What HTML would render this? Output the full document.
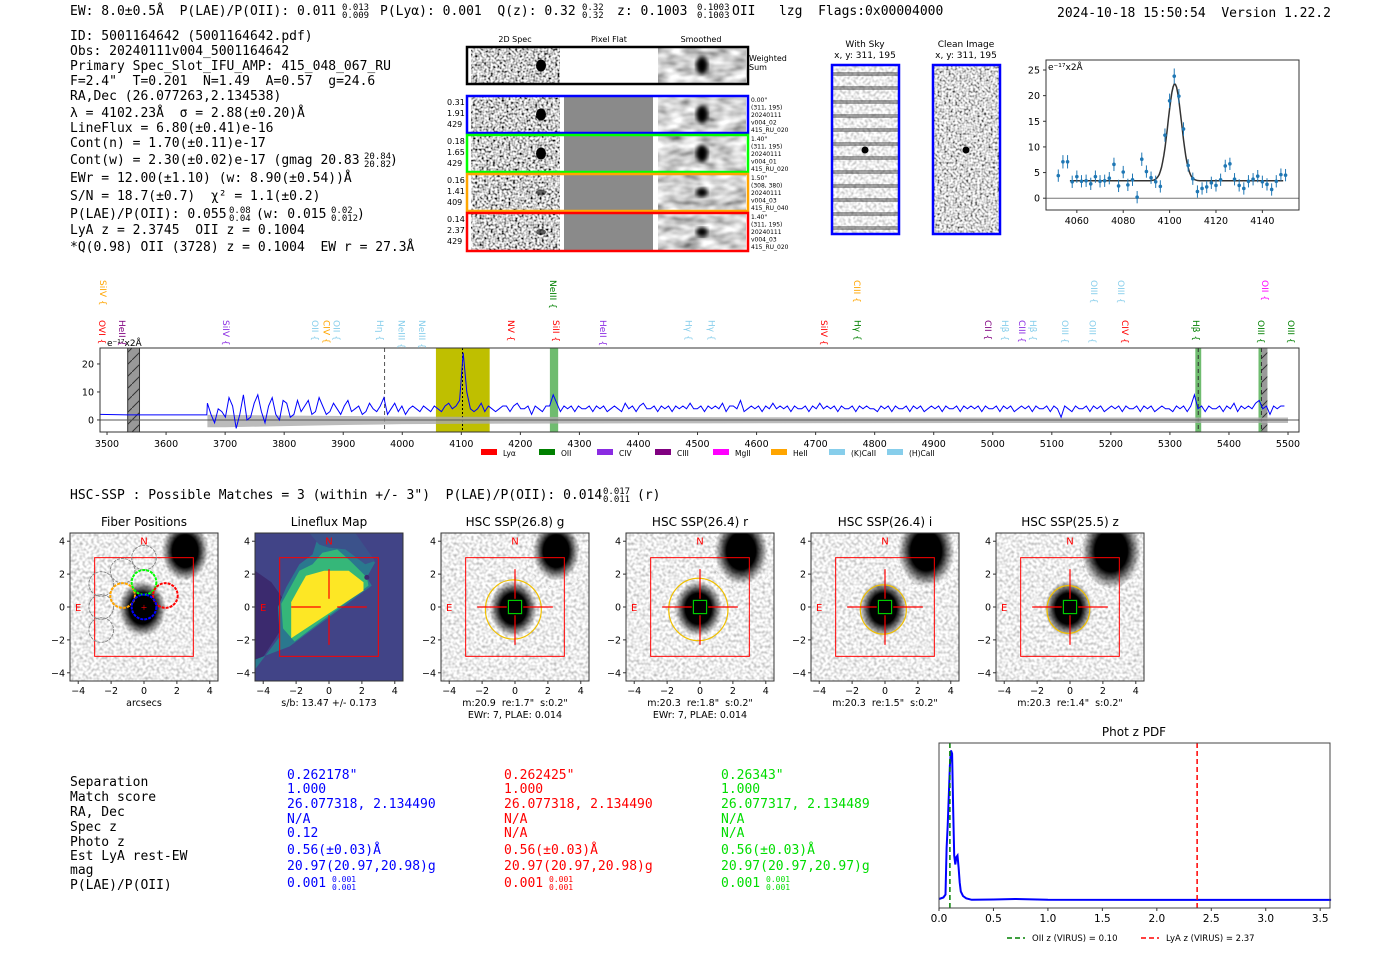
<!DOCTYPE html>
<html><head><meta charset="utf-8">
<style>
html,body{margin:0;padding:0;background:#fff;width:1400px;height:953px;overflow:hidden}
svg{position:absolute;left:0;top:0}
text{white-space:pre}
.m{font-family:"DejaVu Sans Mono","Liberation Mono",monospace;font-size:13px}
.s{font-family:"DejaVu Sans","Liberation Sans",sans-serif}
</style></head>
<body>
<svg id="root" width="1400" height="953" viewBox="0 0 1400 953" xmlns="http://www.w3.org/2000/svg" xml:space="preserve">
<defs>
<filter id="noise" x="0" y="0" width="100%" height="100%">
<feTurbulence type="fractalNoise" baseFrequency="0.45" numOctaves="1" seed="3"/>
<feColorMatrix values="1 0 0 0 0 1 0 0 0 0 1 0 0 0 0 0 0 0 0 1"/>
<feComponentTransfer><feFuncR type="linear" slope="2.6" intercept="-0.7"/><feFuncG type="linear" slope="2.6" intercept="-0.7"/><feFuncB type="linear" slope="2.6" intercept="-0.7"/><feFuncA type="linear" slope="0" intercept="1"/></feComponentTransfer>
</filter>
<filter id="lnoise" x="0" y="0" width="100%" height="100%">
<feTurbulence type="fractalNoise" baseFrequency="0.35" numOctaves="1" seed="7"/>
<feColorMatrix values="1 0 0 0 0 1 0 0 0 0 1 0 0 0 0 0 0 0 0 1"/>
<feComponentTransfer><feFuncR type="linear" slope="1.2" intercept="0.25"/><feFuncG type="linear" slope="1.2" intercept="0.25"/><feFuncB type="linear" slope="1.2" intercept="0.25"/><feFuncA type="linear" slope="0" intercept="1"/></feComponentTransfer>
</filter>
<filter id="smooth" x="0" y="0" width="100%" height="100%">
<feTurbulence type="fractalNoise" baseFrequency="0.06 0.12" numOctaves="2" seed="5"/>
<feColorMatrix values="1 0 0 0 0 1 0 0 0 0 1 0 0 0 0 0 0 0 0 1"/>
<feComponentTransfer><feFuncR type="linear" slope="1.3" intercept="0"/><feFuncG type="linear" slope="1.3" intercept="0"/><feFuncB type="linear" slope="1.3" intercept="0"/><feFuncA type="linear" slope="0" intercept="1"/></feComponentTransfer>
</filter>
<filter id="blur2"><feGaussianBlur stdDeviation="2"/></filter>
<radialGradient id="blob"><stop offset="0" stop-color="#000"/><stop offset="0.55" stop-color="#000"/><stop offset="1" stop-color="#000" stop-opacity="0"/></radialGradient>
<pattern id="hatch" width="12" height="12" patternUnits="userSpaceOnUse"><rect width="12" height="12" fill="#999"/><path d="M0 12 L12 0" stroke="#333" stroke-width="1"/></pattern>
</defs>

<g class="m">
<text x="70" y="15">EW: 8.0±0.5Å  P(LAE)/P(OII): 0.011</text>
<text x="342" y="10" font-size="9">0.013</text>
<text x="342" y="18" font-size="9">0.009</text>
<text x="380" y="15">P(Lyα): 0.001  Q(z): 0.32</text>
<text x="582" y="10" font-size="9">0.32</text>
<text x="582" y="18" font-size="9">0.32</text>
<text x="617" y="15">z: 0.1003</text>
<text x="697" y="10" font-size="9">0.1003</text>
<text x="697" y="18" font-size="9">0.1003</text>
<text x="732" y="15">OII   lzg  Flags:0x00004000</text>
<text x="1057" y="17">2024-10-18 15:50:54  Version 1.22.2</text>
</g>

<g class="m">
<text x="70" y="40">ID: 5001164642 (5001164642.pdf)</text>
<text x="70" y="55">Obs: 20240111v004_5001164642</text>
<text x="70" y="70">Primary Spec_Slot_IFU_AMP: 415_048_067_RU</text>
<text x="70" y="85">F=2.4"  T=0.201  N=1.49  A=0.57  g=24.6</text>
<text x="70" y="100">RA,Dec (26.077263,2.134538)</text>
<text x="70" y="117">λ = 4102.23Å  σ = 2.88(±0.20)Å</text>
<text x="70" y="132">LineFlux = 6.80(±0.41)e-16</text>
<text x="70" y="147">Cont(n) = 1.70(±0.11)e-17</text>
<text x="70" y="164">Cont(w) = 2.30(±0.02)e-17 (gmag 20.83</text>
<text x="364" y="159" font-size="9">20.84</text><text x="364" y="167" font-size="9">20.82</text><text x="390" y="164">)</text>
<text x="70" y="182">EWr = 12.00(±1.10) (w: 8.90(±0.54))Å</text>
<text x="70" y="200">S/N = 18.7(±0.7)  χ² = 1.1(±0.2)</text>
<text x="70" y="218">P(LAE)/P(OII): 0.055</text>
<text x="229" y="213" font-size="9">0.08</text><text x="229" y="221" font-size="9">0.04</text>
<text x="256" y="218">(w: 0.015</text>
<text x="331" y="213" font-size="9">0.02</text><text x="331" y="221" font-size="9">0.012</text><text x="357" y="218">)</text>
<text x="70" y="234">LyA z = 2.3745  OII z = 0.1004</text>
<text x="70" y="251">*Q(0.98) OII (3728) z = 0.1004  EW r = 27.3Å</text>
</g>

<g id="spec2d"></g>

<g>
<text class="s" x="865" y="47" font-size="9" text-anchor="middle">With Sky</text>
<text class="s" x="865" y="58" font-size="9" text-anchor="middle">x, y: 311, 195</text>
<rect x="832" y="65" width="67" height="169" fill="#888" filter="url(#lnoise)"/>
<g opacity="0.45"><rect x="832" y="72" width="67" height="4" fill="#333"/><rect x="832" y="86" width="67" height="4" fill="#333"/><rect x="832" y="100" width="67" height="4" fill="#333"/><rect x="832" y="114" width="67" height="4" fill="#333"/><rect x="832" y="128" width="67" height="4" fill="#333"/><rect x="832" y="142" width="67" height="4" fill="#333"/><rect x="832" y="156" width="67" height="4" fill="#333"/><rect x="832" y="170" width="67" height="4" fill="#333"/><rect x="832" y="184" width="67" height="4" fill="#333"/><rect x="832" y="198" width="67" height="4" fill="#333"/><rect x="832" y="212" width="67" height="4" fill="#333"/><rect x="832" y="226" width="67" height="4" fill="#333"/></g>
<circle cx="865" cy="150" r="3.5" fill="#000"/>
<rect x="832" y="65" width="67" height="169" fill="none" stroke="#00f" stroke-width="2.5"/>
<text class="s" x="966" y="47" font-size="9" text-anchor="middle">Clean Image</text>
<text class="s" x="966" y="58" font-size="9" text-anchor="middle">x, y: 311, 195</text>
<rect x="933" y="65" width="67" height="169" fill="#888" filter="url(#noise)" opacity="0.75"/>
<circle cx="966" cy="150" r="3.5" fill="#000"/>
<rect x="933" y="65" width="67" height="169" fill="none" stroke="#00f" stroke-width="2.5"/>
</g>

<g id="zoomplot"></g>
<g id="mainspec"></g>

<g class="m">
<text x="70" y="499">HSC-SSP : Possible Matches = 3 (within +/- 3")  P(LAE)/P(OII): 0.014</text>
<text x="603" y="494" font-size="9">0.017</text>
<text x="603" y="502" font-size="9">0.011</text>
<text x="637" y="499">(r)</text>
</g>

<g id="cutouts"></g>

<g class="m">
<g>
<text x="70" y="786">Separation</text><text x="70" y="801">Match score</text><text x="70" y="816">RA, Dec</text><text x="70" y="831">Spec z</text><text x="70" y="846">Photo z</text><text x="70" y="860">Est LyA rest-EW</text><text x="70" y="874">mag</text><text x="70" y="889">P(LAE)/P(OII)</text>
</g>
<g fill="#0000ff">
<text x="287" y="779">0.262178"</text><text x="287" y="793">1.000</text><text x="287" y="808">26.077318, 2.134490</text><text x="287" y="823">N/A</text><text x="287" y="837">0.12</text><text x="287" y="854">0.56(±0.03)Å</text><text x="287" y="870">20.97(20.97,20.98)g</text><text x="287" y="887">0.001</text><text x="332" y="882" font-size="8">0.001</text><text x="332" y="890" font-size="8">0.001</text>
</g>
<g fill="#ff0000">
<text x="504" y="779">0.262425"</text><text x="504" y="793">1.000</text><text x="504" y="808">26.077318, 2.134490</text><text x="504" y="823">N/A</text><text x="504" y="837">N/A</text><text x="504" y="854">0.56(±0.03)Å</text><text x="504" y="870">20.97(20.97,20.98)g</text><text x="504" y="887">0.001</text><text x="549" y="882" font-size="8">0.001</text><text x="549" y="890" font-size="8">0.001</text>
</g>
<g fill="#00dd00">
<text x="721" y="779">0.26343"</text><text x="721" y="793">1.000</text><text x="721" y="808">26.077317, 2.134489</text><text x="721" y="823">N/A</text><text x="721" y="837">N/A</text><text x="721" y="854">0.56(±0.03)Å</text><text x="721" y="870">20.97(20.97,20.97)g</text><text x="721" y="887">0.001</text><text x="766" y="882" font-size="8">0.001</text><text x="766" y="890" font-size="8">0.001</text>
</g>
</g>

<g id="photz"></g>
</svg>

<script>
const NS="http://www.w3.org/2000/svg";
function mk(parent,tag,attrs,text){const e=document.createElementNS(NS,tag);for(const k in attrs)e.setAttribute(k,attrs[k]);if(text!==undefined)e.textContent=text;parent.appendChild(e);return e;}

/* ---------- line fit data ---------- */
const fitWave=[4052,4054,4056,4058,4060,4062,4064,4066,4068,4070,4072,4074,4076,4078,4080,4082,4084,4086,4088,4090,4092,4094,4096,4098,4100,4102,4104,4106,4108,4110,4112,4114,4116,4118,4120,4122,4124,4126,4128,4130,4132,4134,4136,4138,4140,4142,4144,4146,4148,4150];
const fitFlux=[4.4,7.1,7.1,3.2,4.2,3.3,3.4,2.8,4.2,3.3,3.4,3.9,6.6,2.4,5.1,2.6,3.6,0.2,7.6,5.2,4.0,3.2,2.3,12.3,19.0,23.8,19.9,13.5,6.4,3.8,1.3,1.9,2.2,3.0,2.5,3.6,6.3,6.7,3.7,2.5,1.9,3.3,3.7,4.3,3.2,2.7,1.7,3.3,4.6,4.5];
const fitErr=[1.2,1.3,1.3,1.2,1.2,1.2,1.2,1.2,1.2,1.2,1.2,1.2,1.3,1.2,1.2,1.2,1.2,1.2,1.3,1.2,1.2,1.2,1.2,1.3,1.4,1.5,1.4,1.3,1.2,1.2,1.2,1.2,1.2,1.2,1.2,1.2,1.2,1.2,1.2,1.2,1.2,1.2,1.2,1.2,1.2,1.2,1.2,1.2,1.2,1.2];
const fitParams=[4102.23,2.88,18.9,3.4];
const fitXTicks=[4060,4080,4100,4120,4140];
const fitYTicks=[0,5,10,15,20,25];

/* ---------- full spectrum ---------- */
const specStart=3670, specStep=6.1;
const specFlux=[
6,2,-1,4,3,1,8,5,-3,2,
9,0,1,6,9,3,-1,5,8,2,
0,7,6,1,2,7,3,5,7,2,
3,8,5,2,3,6,4,2,5,7,
3,4,5,2,3,6,4,3,5,8,
2,4,6,3,5,2,4,5,4,3,
5,4,3,5,4,3,5,6,4,5,
7,24,10,4,3,4,6,3,5,4,
3,4,5,5,3,5,6,4,4,5,
2,5,4,3,5,5,9,6,3,5,
4,5,3,5,4,4,5,3,5,4,
5,3,4,5,4,3,6,4,5,3,
5,6,4,4,5,3,5,4,5,3,
5,4,5,4,6,4,4,5,3,5,
4,5,4,6,3,5,5,4,7,3,
4,5,4,5,3,5,4,6,4,5,
4,5,3,5,4,4,5,3,5,4,
6,4,5,4,5,3,5,4,4,5,
3,5,4,5,4,4,3,5,4,5,
3,5,4,4,5,3,5,4,5,3,
4,5,4,5,3,5,4,4,5,3,
5,4,5,4,5,3,5,4,4,5,
3,5,4,5,3,4,5,4,5,3,
5,4,4,5,3,5,4,1,5,4,
3,5,4,4,5,3,5,4,5,3,
4,5,4,5,3,5,4,4,5,3,
5,4,5,3,4,5,4,4,3,5,
4,5,3,5,9,4,5,3,5,4,
4,5,3,5,4,6,3,5,4,5,
4,6,7,4,5,2,5,4,5,5];
const errWave=[3670,3700,3800,3900,4000,4200,4500,5000,5500];
const errHi=[1.8,1.8,1.6,1.4,1.2,1.1,1.0,0.9,0.9];
const errLo=[-2.6,-2.6,-2.2,-1.8,-1.5,-1.3,-1.2,-1.1,-1.1];
const specXTicks=[3500,3600,3700,3800,3900,4000,4100,4200,4300,4400,4500,4600,4700,4800,4900,5000,5100,5200,5300,5400,5500];
const specYTicks=[0,10,20];
const lineNames=["OVI","HeII","SiIV","OII","CIV","OII","Hη","NeIII","NeIII","NV","SiII","HeII","Hγ","Hγ","SiIV","Hγ","CII","Hβ","CIII","Hβ","OIII","OIII","CIV","Hβ","OIII","OIII","SiIV","NeIII","CIII","OIII","OIII","OII"];
const lineWave=[3493,3527,3703,3854,3873,3890,3964,4000,4035,4186,4262,4342,4486,4525,4716,4773,4994,5022,5051,5070,5124,5171,5226,5346,5456,5507,3495,4257,4772,5173,5219,5463];
const lineColor=["red","purple","#8a2be2","skyblue","orange","skyblue","skyblue","skyblue","skyblue","red","red","#8a2be2","skyblue","skyblue","red","green","purple","skyblue","#8a2be2","skyblue","skyblue","skyblue","red","green","green","green","orange","green","orange","skyblue","skyblue","magenta"];
const lineRow=[0,0,0,0,0,0,0,0,0,0,0,0,0,0,0,0,0,0,0,0,0,0,0,0,0,0,1,1,1,1,1,1];
const legendNames=["Lyα","OII","CIV","CIII","MgII","HeII","(K)CaII","(H)CaII"];
const legendColors=["red","green","#8a2be2","purple","magenta","orange","skyblue","skyblue"];

/* ---------- phot z ---------- */
const pzZ=[0,0.04,0.06,0.07,0.08,0.09,0.10,0.11,0.12,0.13,0.14,0.15,0.16,0.17,0.18,0.19,0.2,0.22,0.25,0.3,0.5,0.7,1.0,2.0,3.0,3.6];
const pzP=[0.01,0.02,0.04,0.35,0.5,0.7,0.9,1.0,0.98,0.6,0.3,0.24,0.29,0.3,0.22,0.12,0.06,0.03,0.015,0.005,0.007,0.01,0.005,0.004,0.004,0.004];
const pzXTicks=[0,0.5,1.0,1.5,2.0,2.5,3.0,3.5];
const pzOII=0.10, pzLyA=2.37;

/* ---------- 2D spectra ---------- */
(function(){
 const g=document.getElementById('spec2d');
 const heads=["2D Spec","Pixel Flat","Smoothed"],hx=[515,609,701];
 heads.forEach((h,i)=>{const t=mk(g,'text',{x:hx[i],y:42,'font-size':8,'text-anchor':'middle','class':'s'},h);});
 const rows=[{y:47,h:37,c:"#000",flat:false,l:[],r:["Weighted","Sum"]},{y:96,h:37,c:"#00f",flat:true,l:["0.31","1.91","429"],r:["0.00\"","(311, 195)","20240111","v004_02","415_RU_020"]},{y:135,h:37,c:"#0f0",flat:true,l:["0.18","1.65","429"],r:["1.40\"","(311, 195)","20240111","v004_01","415_RU_020"]},{y:174,h:37,c:"orange",flat:true,l:["0.16","1.41","409"],r:["1.50\"","(308, 380)","20240111","v004_03","415_RU_040"]},{y:213,h:38,c:"red",flat:true,l:["0.14","2.37","429"],r:["1.40\"","(311, 195)","20240111","v004_03","415_RU_020"]}];
 rows.forEach((r,i)=>{
  const rg=mk(g,'g',{});
  mk(rg,'rect',{x:471,y:r.y+1,width:89,height:r.h-2,fill:'#888',filter:'url(#noise)'});
  mk(rg,'ellipse',{cx:541,cy:r.y+r.h/2,rx:5,ry:i>=3?3:6,fill:'#000',opacity:i>=3?0.6:1});
  if(r.flat)mk(rg,'rect',{x:564,y:r.y+1,width:89,height:r.h-2,fill:'#8a8a8a'});
  mk(rg,'rect',{x:658,y:r.y+1,width:88,height:r.h-2,fill:'#888',filter:'url(#smooth)'});
  mk(rg,'ellipse',{cx:702,cy:r.y+r.h/2,rx:6,ry:i>=3?5:9,fill:'#000',filter:'url(#blur2)'});
  mk(rg,'rect',{x:467,y:r.y,width:281,height:r.h,fill:'none',stroke:r.c,'stroke-width':2.5});
  r.l.forEach((t,j)=>mk(rg,'text',{x:447,y:r.y+9+j*11,'font-size':8,'class':'s'},t));
  if(i==0)r.r.forEach((t,j)=>mk(rg,'text',{x:749,y:r.y+14+j*9,'font-size':8,'class':'s'},t));
  else r.r.forEach((t,j)=>mk(rg,'text',{x:751,y:r.y+6+j*7.5,'font-size':6,'class':'s'},t));
 });
})();

/* ---------- line fit plot ---------- */
(function(){
 const g=document.getElementById('zoomplot');
 const L=1046,R=1299,T=60,B=210,x0=4046.7,x1=4155.8,y0=-2.3,y1=26.95;
 const X=w=>L+(w-x0)/(x1-x0)*(R-L), Y=v=>B-(v-y0)/(y1-y0)*(B-T);
 mk(g,'line',{x1:L,x2:R,y1:Y(0),y2:Y(0),stroke:'#777','stroke-width':1});
 let d='';for(let w=4057;w<=4149;w+=0.5){const v=fitParams[3]+fitParams[2]*Math.exp(-0.5*Math.pow((w-fitParams[0])/fitParams[1],2));d+=(d?'L':'M')+X(w).toFixed(1)+' '+Y(v).toFixed(1);}
 const fl=mk(g,'path',{d:d,fill:'none',stroke:'#333','stroke-width':1.5});
 
 fitWave.forEach((w,i)=>{
  const pt=mk(g,'g',{});
  
  
  mk(pt,'line',{x1:X(w),x2:X(w),y1:Y(fitFlux[i]-fitErr[i]),y2:Y(fitFlux[i]+fitErr[i]),stroke:'#1f77b4','stroke-width':1});
  mk(pt,'circle',{cx:X(w),cy:Y(fitFlux[i]),r:1.8,fill:'#1f77b4'});
 });
 mk(g,'rect',{x:L,y:T,width:R-L,height:B-T,fill:'none',stroke:'#333','stroke-width':1});
 fitXTicks.forEach(t=>{mk(g,'line',{x1:X(t),x2:X(t),y1:B,y2:B+3,stroke:'#333'});const e=mk(g,'text',{x:X(t),y:B+14,'font-size':9.5,'text-anchor':'middle','class':'s'},t);});
 fitYTicks.forEach(t=>{mk(g,'line',{x1:L-3,x2:L,y1:Y(t),y2:Y(t),stroke:'#333'});const e=mk(g,'text',{x:L-6,y:Y(t)+3.5,'font-size':9.5,'text-anchor':'end','class':'s'},t);});
 const u=mk(g,'text',{x:L+2,y:T+10,'font-size':9,'class':'s'},'e⁻¹⁷x2Å');
})();

/* ---------- full spectrum ---------- */
(function(){
 const g=document.getElementById('mainspec');
 const L=100,R=1299,T=348,B=432,x0=3488.1,x1=5518.6,y0=-4.3,y1=25.7;
 const X=w=>L+(w-x0)/(x1-x0)*(R-L), Y=v=>B-(v-y0)/(y1-y0)*(B-T);
 mk(g,'rect',{x:X(3535),y:T,width:X(3555)-X(3535),height:B-T,fill:'url(#hatch)',stroke:'#333'});
 mk(g,'rect',{x:X(4057),y:T,width:X(4148)-X(4057),height:B-T,fill:'#bfbf00'});
 mk(g,'rect',{x:X(4250),y:T,width:X(4264)-X(4250),height:B-T,fill:'#5fb55f',opacity:0.9});
 mk(g,'rect',{x:X(5343),y:T,width:X(5353)-X(5343),height:B-T,fill:'#5fb55f',opacity:0.9});
 mk(g,'rect',{x:X(5450),y:T,width:X(5465)-X(5450),height:B-T,fill:'#5fb55f',opacity:0.9});
 mk(g,'rect',{x:X(5455),y:T,width:X(5465)-X(5455),height:B-T,fill:'url(#hatch)'});
 mk(g,'line',{x1:X(5348),x2:X(5348),y1:T,y2:B,stroke:'#333','stroke-dasharray':'4,3'});
 mk(g,'line',{x1:X(5455),x2:X(5455),y1:T,y2:B,stroke:'#333','stroke-dasharray':'4,3'});
 mk(g,'line',{x1:X(3970),x2:X(3970),y1:T,y2:B,stroke:'#555','stroke-dasharray':'4,3'});
 mk(g,'line',{x1:X(4102),x2:X(4102),y1:T,y2:B,stroke:'#000','stroke-dasharray':'2,2'});
 let p='';errWave.forEach((w,i)=>p+=(p?'L':'M')+X(w)+' '+Y(errHi[i]));for(let i=errWave.length-1;i>=0;i--)p+='L'+X(errWave[i])+' '+Y(errLo[i]);p+='Z';
 const eb=mk(g,'path',{d:p,fill:'#aaa',opacity:0.8});
 mk(g,'line',{x1:L,x2:R,y1:Y(0),y2:Y(0),stroke:'#555','stroke-width':1});
 let d='M'+X(3488)+' '+Y(2)+'L'+X(3535)+' '+Y(1.8)+'L'+X(specStart-1)+' '+Y(1.8);
 specFlux.forEach((v,i)=>{const w=specStart+i*specStep;if(w<=5518)d+='L'+X(w).toFixed(1)+' '+Y(v).toFixed(1);});
 const sp=mk(g,'path',{d:d,fill:'none',stroke:'#0000ff','stroke-width':1});
 mk(g,'rect',{x:L,y:T,width:R-L,height:B-T,fill:'none',stroke:'#333','stroke-width':1});
 specXTicks.forEach(t=>{mk(g,'line',{x1:X(t),x2:X(t),y1:B,y2:B+3,stroke:'#333'});const e=mk(g,'text',{x:X(t),y:B+15,'font-size':9.5,'text-anchor':'middle','class':'s'},t);});
 specYTicks.forEach(t=>{mk(g,'line',{x1:L-3,x2:L,y1:Y(t),y2:Y(t),stroke:'#333'});const e=mk(g,'text',{x:L-6,y:Y(t)+3.5,'font-size':9.5,'text-anchor':'end','class':'s'},t);});
 const u=mk(g,'text',{x:107,y:346,'font-size':9,'class':'s'},'e⁻¹⁷x2Å');
 lineNames.forEach((n,i)=>{
  const x=X(lineWave[i]),y=lineRow[i]?280:320;
  const t=mk(g,'text',{x:0,y:0,transform:`translate(${(x-4).toFixed(1)},${y}) rotate(90)`,'font-size':9,fill:lineColor[i],'class':'s'},n+' {');
  
  
 });
 legendNames.forEach((n,i)=>{
  const lx=481+i*58;
  const lg=mk(g,'g',{});
  
  
  mk(lg,'rect',{x:lx,y:449,width:16,height:6,fill:legendColors[i]});
  mk(lg,'text',{x:lx+22,y:456,'font-size':7.5,'class':'s'},n);
 });
})();

/* ---------- cutouts ---------- */
(function(){
 const g=document.getElementById('cutouts');
 const panels=[{x:70,t:"Fiber Positions",sub:["arcsecs"],type:"fiber"},{x:255,t:"Lineflux Map",sub:["s/b: 13.47 +/- 0.173"],type:"flux"},{x:441,t:"HSC SSP(26.8) g",sub:["m:20.9  re:1.7\"  s:0.2\"","EWr: 7, PLAE: 0.014"],type:"hsc",e:[1.7,1.8]},{x:626,t:"HSC SSP(26.4) r",sub:["m:20.3  re:1.8\"  s:0.2\"","EWr: 7, PLAE: 0.014"],type:"hsc",e:[1.8,1.9]},{x:811,t:"HSC SSP(26.4) i",sub:["m:20.3  re:1.5\"  s:0.2\""],type:"hsc",e:[1.4,1.5]},{x:996,t:"HSC SSP(25.5) z",sub:["m:20.3  re:1.4\"  s:0.2\""],type:"hsc",e:[1.3,1.45]}];
 const T=533,W=148;
 const ticks=[-4,-2,0,2,4];
 panels.forEach((P,pi)=>{
  const pg=mk(g,'g',{});
  
  
  const X=u=>P.x+(u+4.5)/9*W, Y=u=>T+(4.5-u)/9*W, S=W/9;
  const poly=(pts,fill)=>mk(inner,'polygon',{points:pts.map(a=>X(a[0]).toFixed(1)+','+Y(a[1]).toFixed(1)).join(' '),fill:fill});
  const cid='clip'+pi;const cp=mk(pg,'clipPath',{id:cid});mk(cp,'rect',{x:P.x,y:T,width:W,height:W});
  const inner=mk(pg,'g',{'clip-path':`url(#${cid})`});
  if(P.type==='flux'){
   mk(inner,'rect',{x:P.x,y:T,width:W,height:W,fill:'#414487'});
   poly([[-4.5,2.2],[-3.5,1.5],[-2.8,0.5],[-3,-1.5],[-4.5,-3.8]],'#3b2a6e');
   poly([[-4.5,-3.8],[-3,-1.8],[-3.1,0],[-2.6,1.2],[-1.8,2.6],[-1,3.2],[-0.6,4.5],[1.5,4.5],[2.8,2.7],[2.3,1.8],[2.6,1.3],[-2.4,-2.4],[-4.5,-3.2]],'#2a788e');
   poly([[-1.2,4.5],[-0.2,4.5],[1.6,4.5],[2.8,2.8],[2.2,2.6],[1,3.5],[0,3.6],[-0.6,3.8]],'#3b528b');
   poly([[-2.8,-1.3],[-2.9,0.2],[-2.4,1.1],[-1.8,2.2],[-1.0,2.6],[-0.4,3.3],[0.5,3.5],[1.3,2.8],[2.3,1.8],[2.4,1.3],[-2.1,-2.1]],'#35b779');
   poly([[-2.3,-1.9],[-2.3,0.3],[-1.8,1.2],[-1.4,1.9],[-0.3,2.2],[1.2,2.2],[2.1,1.5],[2.1,1.0]],'#fde725');
   mk(inner,'circle',{cx:X(2.3),cy:Y(1.8),r:2.5,fill:'#3b2a6e'});
  } else {
   mk(inner,'rect',{x:P.x,y:T,width:W,height:W,fill:'#ccc',filter:'url(#lnoise)'});
   const bs=P.type==='hsc'?[1.5,1.7,1.8,1.9][pi-2]:1.5;
   mk(inner,'ellipse',{cx:X(2.5),cy:Y(3.4),rx:S*bs*0.95,ry:S*bs*1.2,fill:'url(#blob)'});
   mk(inner,'ellipse',{cx:X(-0.1),cy:Y(-0.1),rx:S*1.45,ry:S*1.7,fill:'url(#blob)'});
   if(P.type==='hsc')mk(inner,'ellipse',{cx:X(2.6),cy:Y(3.3),rx:S*1.9,ry:S*2.2,fill:'none',stroke:'#fff','stroke-dasharray':'2,2',opacity:0.7});
  }
  mk(pg,'rect',{x:X(-3),y:Y(3),width:S*6,height:S*6,fill:'none',stroke:'red','stroke-width':1});
  if(P.type==='fiber'){
   const fc=[[-2.6,1.4,'#888'],[-1.3,2.2,'#888'],[0,3,'#888'],[-2.6,0,'#888'],[-2.6,-1.4,'#888'],[-1.3,0.7,'orange'],[0,1.5,'#0f0'],[1.3,0.7,'red'],[0,0,'blue']];
   fc.forEach(c=>mk(pg,'circle',{cx:X(c[0]),cy:Y(c[1]),r:S*0.75,fill:'none',stroke:c[2],'stroke-width':c[2]=='#888'?1:2,'stroke-dasharray':'3,1'}));
   mk(pg,'text',{x:X(0),y:Y(0)+4,'font-size':11,fill:'red','text-anchor':'middle'},'+');
  } else {
   if(P.type==='hsc'){
    mk(pg,'ellipse',{cx:X(-0.1),cy:Y(-0.15),rx:S*P.e[0],ry:S*P.e[1],fill:'none',stroke:'#f0c000','stroke-width':1.2});
    mk(pg,'rect',{x:X(-0.4),y:Y(0.4),width:S*0.8,height:S*0.8,fill:'none',stroke:'#0c0','stroke-width':1.2});
   }
   mk(pg,'line',{x1:X(0),x2:X(0),y1:Y(2.3),y2:Y(0.5),stroke:'red','stroke-width':1.2});
   mk(pg,'line',{x1:X(0),x2:X(0),y1:Y(-0.5),y2:Y(-2.3),stroke:'red','stroke-width':1.2});
   mk(pg,'line',{x1:X(-2.3),x2:X(-0.5),y1:Y(0),y2:Y(0),stroke:'red','stroke-width':1.2});
   mk(pg,'line',{x1:X(0.5),x2:X(2.3),y1:Y(0),y2:Y(0),stroke:'red','stroke-width':1.2});
  }
  mk(pg,'text',{x:X(0),y:Y(3.8),'font-size':10,fill:'red','text-anchor':'middle','class':'s'},'N');
  mk(pg,'text',{x:X(-4),y:Y(0)+4,'font-size':10,fill:'red','text-anchor':'middle','class':'s'},'E');
  mk(pg,'rect',{x:P.x,y:T,width:W,height:W,fill:'none',stroke:'#333','stroke-width':1});
  const tt=mk(pg,'text',{x:P.x+W/2,y:526,'font-size':12,'text-anchor':'middle','class':'s'},P.t);
  
  ticks.forEach(t=>{
   mk(pg,'line',{x1:X(t),x2:X(t),y1:T+W,y2:T+W+3,stroke:'#333'});
   mk(pg,'text',{x:X(t),y:T+W+13,'font-size':9.5,'text-anchor':'middle','class':'s'},t<0?'−'+(-t):t);
   mk(pg,'line',{x1:P.x-3,x2:P.x,y1:Y(t),y2:Y(t),stroke:'#333'});
   mk(pg,'text',{x:P.x-5,y:Y(t)+3.5,'font-size':9.5,'text-anchor':'end','class':'s'},t<0?'−'+(-t):t);
  });
  P.sub.forEach((s,j)=>mk(pg,'text',{x:P.x+W/2,y:706+j*12,'font-size':9.5,'text-anchor':'middle','class':'s'},s));
 });
})();

/* ---------- phot z ---------- */
(function(){
 const g=document.getElementById('photz');
 const L=939,R=1330,T=743,B=908,x0=0,x1=3.59,y0=-0.05,y1=1.05;
 const X=z=>L+(z-x0)/(x1-x0)*(R-L), Y=v=>B-(v-y0)/(y1-y0)*(B-T);
 let d='';pzZ.forEach((z,i)=>d+=(d?'L':'M')+X(z).toFixed(1)+' '+Y(pzP[i]).toFixed(1));
 const pl=mk(g,'path',{d:d,fill:'none',stroke:'#0000ff','stroke-width':2});
 mk(g,'line',{x1:X(pzOII),x2:X(pzOII),y1:T,y2:B,stroke:'green','stroke-width':1.5,'stroke-dasharray':'5,3'});
 mk(g,'line',{x1:X(pzLyA),x2:X(pzLyA),y1:T,y2:B,stroke:'red','stroke-width':1.5,'stroke-dasharray':'5,3'});
 mk(g,'rect',{x:L,y:T,width:R-L,height:B-T,fill:'none',stroke:'#444','stroke-width':1});
 pzXTicks.forEach(t=>{mk(g,'line',{x1:X(t),x2:X(t),y1:B,y2:B+3,stroke:'#333'});const e=mk(g,'text',{x:X(t),y:B+14,'font-size':10.5,'text-anchor':'middle','class':'s'},t.toFixed(1));});
 const ti=mk(g,'text',{x:1134,y:736,'font-size':12,'text-anchor':'middle','class':'s'},'Phot z PDF');
 const l1=mk(g,'g',{});
 mk(l1,'line',{x1:1007,x2:1025,y1:938,y2:938,stroke:'green','stroke-width':1.5,'stroke-dasharray':'5,3'});
 mk(l1,'text',{x:1032,y:941,'font-size':8.5,'class':'s'},'OII z (VIRUS) = 0.10');
 const l2=mk(g,'g',{});
 mk(l2,'line',{x1:1141,x2:1159,y1:938,y2:938,stroke:'red','stroke-width':1.5,'stroke-dasharray':'5,3'});
 mk(l2,'text',{x:1166,y:941,'font-size':8.5,'class':'s'},'LyA z (VIRUS) = 2.37');
})();
</script>
</body></html>
